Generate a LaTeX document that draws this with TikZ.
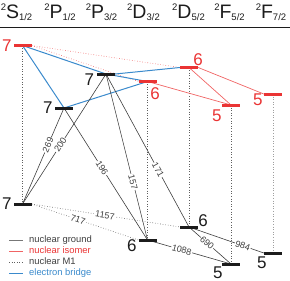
\documentclass[tikz,border=0pt]{standalone}
\usepackage{fontspec}
\setmainfont{Liberation Sans}
\usetikzlibrary{positioning,backgrounds}
\definecolor{isored}{RGB}{234,52,52}
\definecolor{isoline}{RGB}{240,100,100}
\definecolor{bridgeblue}{RGB}{58,138,204}
\definecolor{gndblack}{RGB}{28,28,28}
\definecolor{mgray}{RGB}{95,95,95}
\newcommand{\lvlterm}[2]{{\fontsize{9.5}{9.5}\selectfont\raisebox{9pt}{2}}{\fontsize{19.5}{19.5}\selectfont #1}{\fontsize{9.5}{9.5}\selectfont\raisebox{-1.5pt}{#2}}}

\begin{document}
\begin{tikzpicture}[
x=1pt, y=-1pt,
gnd/.style={fill=gndblack, minimum width=18pt, minimum height=3pt, inner sep=0pt},
iso/.style={gnd, fill=isored},
numlabel/.style={inner sep=0pt, font=\fontsize{17}{17}\selectfont},
termlabel/.style={inner sep=0pt, anchor=base, text=gndblack},
ground/.style={draw=gndblack!85, line width=0.6pt},
isomer/.style={draw=isoline, line width=0.7pt},
magdip/.style={draw=mgray, dotted, line width=0.6pt},
isodip/.style={draw=isoline, dotted, line width=0.6pt},
bridge/.style={draw=bridgeblue, line width=1pt},
eline/.style={sloped, fill=white, inner sep=0.7pt, text=gndblack!85, font=\fontsize{9}{9}\selectfont},
legtext/.style={anchor=west, inner sep=0pt, text height=7pt, text depth=2pt, font=\fontsize{9.4}{9.4}\selectfont}
]
\useasboundingbox (0,0) rectangle (290,281);

% term header
\node[termlabel] (hs12) at (16.5,19) {\lvlterm{S}{1/2}};
\node[termlabel] (hp12) at (60,19) {\lvlterm{P}{1/2}};
\node[termlabel] (hp32) at (101.5,19) {\lvlterm{P}{3/2}};
\node[termlabel] (hd32) at (143.5,19) {\lvlterm{D}{3/2}};
\node[termlabel] (hd52) at (188.5,19) {\lvlterm{D}{5/2}};
\node[termlabel] (hf52) at (229.5,19) {\lvlterm{F}{5/2}};
\node[termlabel] (hf72) at (271,19) {\lvlterm{F}{7/2}};
\draw[line width=1.6pt, gndblack] (0,27.5) -- (290,27.5);

% levels
\node[iso] (s7i) at (22.5,45.5) {};
\node[gnd] (p37g) at (106,74) {};
\node[iso] (d36i) at (147.5,81.5) {};
\node[iso] (d56i) at (189,67.5) {};
\node[gnd] (p17g) at (64,108) {};
\node[iso] (f55i) at (231,105) {};
\node[iso] (f75i) at (273,94) {};
\node[gnd] (s7g) at (22.5,204) {};
\node[gnd] (d36g) at (147.5,240) {};
\node[gnd] (d56g) at (189,227) {};
\node[gnd] (f55g) at (231,264) {};
\node[gnd] (f75g) at (273,253) {};

% spin labels
\node[numlabel, text=isored, left=1.5pt of s7i] (s7ilab) {7};
\node[numlabel, text=gndblack, left=2.5pt of p37g, yshift=-6pt] (p37glab) {7};
\node[numlabel, text=isored, below=4pt of d36i, xshift=7.5pt] (d36ilab) {6};
\node[numlabel, text=isored, above=0pt of d56i, xshift=9pt] (d56ilab) {6};
\node[numlabel, text=gndblack, left=2pt of p17g] (p17glab) {7};
\node[numlabel, text=isored, below left=2.5pt and 0pt of f55i] (f55ilab) {5};
\node[numlabel, text=isored, left=1pt of f75i, yshift=-6pt] (f75ilab) {5};
\node[numlabel, text=gndblack, left=1.5pt of s7g] (s7glab) {7};
\node[numlabel, text=gndblack, left=1.5pt of d36g, yshift=-6pt] (d36glab) {6};
\node[numlabel, text=gndblack, right=0pt of d56g, yshift=6pt] (d56glab) {6};
\node[numlabel, text=gndblack, below left=1pt and -1pt of f55g] (f55glab) {5};
\node[numlabel, text=gndblack, below left=1.5pt and -3pt of f75g] (f75glab) {5};

\begin{scope}[on background layer]
% isomer decay
\draw[magdip] (s7i.center) -- (s7g.center);
\draw[magdip] (d36i.center) -- (d36g.center);
\draw[magdip] (d56i.center) -- (d56g.center);
\draw[magdip] (f55i.center) -- (f55g.center);
\draw[magdip, draw=mgray!60] (f75i.center) -- (f75g.center);
\draw[isodip] (s7i.east) -- (d36i.west);
\draw[isodip] (s7i.east) -- (d56i.west);
\draw[isomer] (d36i.center) -- (f55i.center);
\draw[isomer] (d56i.center) -- (f55i.center);
\draw[isomer] (d56i.east) -- (f75i.west);
% electron bridge
\draw[bridge] (s7i.center) -- (p17g.center);
\draw[bridge] (s7i.center) -- (p37g.center);
\draw[bridge] (p37g.center) -- (d36i.center);
\draw[bridge] (p37g.east) -- (d56i.west);
\draw[bridge] (p17g.center) -- (d36i.center);
% ground transitions
\draw[ground] (p17g.center) -- node[eline, pos=0.385] {269} (s7g.center);
\draw[ground] (p37g.center) -- node[eline, pos=0.546] {200} (s7g.center);
\draw[ground] (p17g.center) -- node[eline, pos=0.455] {196} (d36g.center);
\draw[ground] (p37g.center) -- node[eline, pos=0.65] {157} (d36g.center);
\draw[ground] (p37g.center) -- node[eline, pos=0.627] {171} (d56g.center);
\draw[magdip] (s7g.east) -- node[eline, pos=0.495] {1157} (d56g.west);
\draw[magdip] (s7g.east) -- node[eline, pos=0.435] {717} (d36g.west);
\draw[ground] (d36g.center) -- node[eline, pos=0.41] {1088} (f55g.center);
\draw[ground] (d56g.center) -- node[eline, pos=0.43] {690} (f55g.center);
\draw[ground] (d56g.center) -- node[eline, pos=0.72] {984} (f75g.west);
\end{scope}

% legend
\node[legtext, text=gndblack!85] (lgground) at (29,240.5) {nuclear ground};
\node[legtext, text=isored] (lgisomer) at (29,251.5) {nuclear isomer};
\node[legtext, text=gndblack!85] (lgmone) at (29,262.5) {nuclear M1};
\node[legtext, text=bridgeblue] (lgbridge) at (29,273.5) {electron bridge};
\draw[ground, draw=gndblack!60] ([xshift=-20pt]lgground.west) -- ([xshift=-6pt]lgground.west);
\draw[isomer] ([xshift=-20pt]lgisomer.west) -- ([xshift=-6pt]lgisomer.west);
\draw[magdip] ([xshift=-20pt]lgmone.west) -- ([xshift=-6pt]lgmone.west);
\draw[bridge] ([xshift=-20pt]lgbridge.west) -- ([xshift=-6pt]lgbridge.west);
\end{tikzpicture}
\end{document}
